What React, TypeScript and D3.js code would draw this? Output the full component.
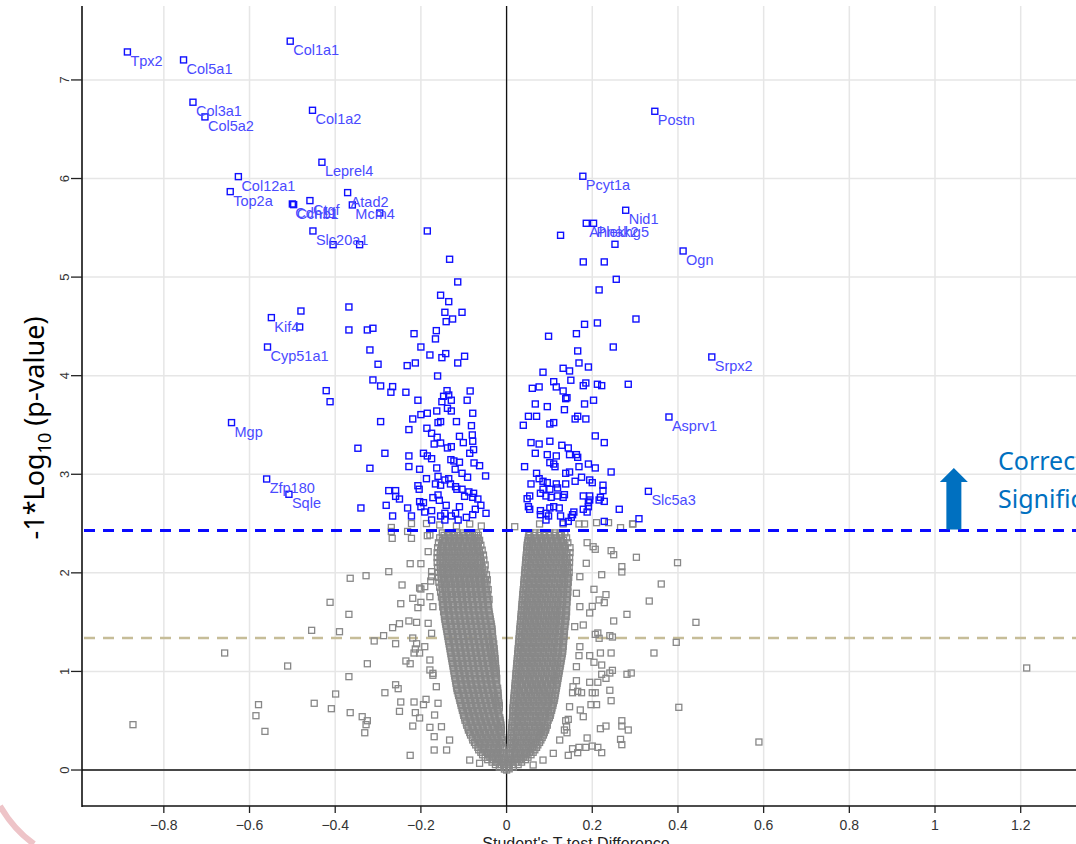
import React, { useEffect, useRef } from "react";
import * as d3 from "d3";

// significant proteins that carry a name: [gene, difference, -log10 p]
const labelled: [string, number, number][] = [
  ["Tpx2", -0.885, 7.284],
  ["Col5a1", -0.754, 7.203],
  ["Col1a1", -0.505, 7.393],
  ["Col3a1", -0.732, 6.774],
  ["Col5a2", -0.704, 6.625],
  ["Col1a2", -0.453, 6.692],
  ["Leprel4", -0.431, 6.165],
  ["Col12a1", -0.626, 6.019],
  ["Top2a", -0.645, 5.867],
  ["Cdh11", -0.5, 5.742],
  ["Ccnb1", -0.497, 5.735],
  ["Ctgf", -0.459, 5.776],
  ["Atad2", -0.371, 5.857],
  ["Mcm4", -0.36, 5.732],
  ["Slc20a1", -0.452, 5.468],
  ["Kif4", -0.549, 4.589],
  ["Cyp51a1", -0.558, 4.291],
  ["Mgp", -0.642, 3.524],
  ["Zfp180", -0.56, 2.952],
  ["Sqle", -0.508, 2.797],
  ["Postn", 0.346, 6.682],
  ["Pcyt1a", 0.178, 6.023],
  ["Nid1", 0.278, 5.678],
  ["Ahnak2", 0.186, 5.546],
  ["Plekhg5", 0.203, 5.546],
  ["Ogn", 0.412, 5.265],
  ["Srpx2", 0.479, 4.19],
  ["Asprv1", 0.379, 3.581],
  ["Slc5a3", 0.331, 2.827],
];

// other significant proteins (above the corrected threshold)
const sigLeft: [number, number][] = [
  [-0.296, 5.65], [-0.405, 5.329], [-0.343, 5.329], [-0.185, 5.468],
  [-0.48, 4.656], [-0.483, 4.494], [-0.368, 4.697], [-0.368, 4.464], [-0.325, 4.464], [-0.312, 4.481],
  [-0.319, 4.261], [-0.3, 4.116], [-0.312, 3.957], [-0.294, 3.896], [-0.266, 3.889], [-0.27, 3.832],
  [-0.421, 3.848], [-0.412, 3.736], [-0.294, 3.534], [-0.347, 3.264], [-0.284, 3.213], [-0.319, 3.061],
  [-0.133, 5.181], [-0.114, 4.951], [-0.154, 4.816], [-0.135, 4.751], [-0.144, 4.643], [-0.104, 4.643],
  [-0.126, 4.575], [-0.141, 4.548], [-0.216, 4.426], [-0.164, 4.457], [-0.166, 4.373], [-0.2, 4.291],
  [-0.179, 4.21], [-0.142, 4.224], [-0.151, 4.183], [-0.098, 4.197], [-0.114, 4.129], [-0.232, 4.102],
  [-0.213, 4.129], [-0.161, 3.997], [-0.235, 3.832], [-0.139, 3.848], [-0.147, 3.791], [-0.135, 3.804],
  [-0.085, 3.845], [-0.207, 3.751], [-0.151, 3.736], [-0.129, 3.751], [-0.092, 3.751], [-0.2, 3.605],
  [-0.185, 3.619], [-0.163, 3.642], [-0.138, 3.669], [-0.129, 3.642], [-0.079, 3.619], [-0.219, 3.561],
  [-0.16, 3.524], [-0.154, 3.534], [-0.117, 3.534], [-0.228, 3.453], [-0.186, 3.467], [-0.175, 3.416],
  [-0.082, 3.493], [-0.162, 3.375], [-0.11, 3.385], [-0.08, 3.399], [-0.169, 3.307], [-0.154, 3.317],
  [-0.138, 3.267], [-0.129, 3.28], [-0.101, 3.321], [-0.079, 3.335], [-0.077, 3.25], [-0.194, 3.213],
  [-0.185, 3.186], [-0.175, 3.158], [-0.228, 3.186], [-0.13, 3.148], [-0.123, 3.135], [-0.11, 3.122],
  [-0.086, 3.213], [-0.076, 3.115], [-0.063, 3.087], [-0.228, 3.078], [-0.203, 3.051], [-0.163, 3.064],
  [-0.12, 3.051], [-0.104, 3.01], [-0.091, 2.97], [-0.049, 2.983], [-0.187, 2.955], [-0.16, 2.979],
  [-0.144, 2.942], [-0.135, 2.955], [-0.166, 2.902], [-0.154, 2.889], [-0.131, 2.902], [-0.119, 2.874],
  [-0.116, 2.848], [-0.104, 2.848], [-0.088, 2.821], [-0.077, 2.807], [-0.207, 2.884], [-0.204, 2.848],
  [-0.275, 2.834], [-0.259, 2.834], [-0.25, 2.749], [-0.259, 2.776], [-0.281, 2.685], [-0.231, 2.658],
  [-0.203, 2.722], [-0.194, 2.712], [-0.172, 2.763], [-0.16, 2.79], [-0.157, 2.736], [-0.141, 2.685],
  [-0.11, 2.671], [-0.098, 2.776], [-0.079, 2.766], [-0.067, 2.749], [-0.06, 2.685], [-0.073, 2.645],
  [-0.048, 2.604], [-0.34, 2.658], [-0.266, 2.577], [-0.222, 2.577], [-0.2, 2.671], [-0.191, 2.617],
  [-0.175, 2.631], [-0.154, 2.577], [-0.144, 2.604], [-0.129, 2.577], [-0.119, 2.604], [-0.094, 2.563],
  [-0.175, 2.536], [-0.144, 2.536], [-0.113, 2.536], [-0.079, 2.59],
];

const sigRight: [number, number][] = [
  [0.126, 5.424], [0.253, 5.333], [0.179, 5.154], [0.228, 5.154], [0.256, 4.978], [0.216, 4.87],
  [0.302, 4.575], [0.182, 4.521], [0.212, 4.535], [0.098, 4.4], [0.163, 4.426], [0.249, 4.291],
  [0.166, 4.251], [0.169, 4.129], [0.191, 4.088], [0.132, 4.075], [0.147, 4.048], [0.085, 4.035],
  [0.15, 3.954], [0.11, 3.939], [0.116, 3.886], [0.179, 3.899], [0.185, 3.926], [0.212, 3.913],
  [0.222, 3.899], [0.284, 3.913], [0.076, 3.886], [0.06, 3.872], [0.132, 3.845], [0.138, 3.767],
  [0.141, 3.777], [0.067, 3.713], [0.095, 3.686], [0.182, 3.713], [0.203, 3.751], [0.135, 3.655],
  [0.051, 3.588], [0.07, 3.588], [0.166, 3.588], [0.16, 3.561], [0.185, 3.561], [0.039, 3.497],
  [0.101, 3.51], [0.11, 3.524], [0.207, 3.389], [0.228, 3.321], [0.057, 3.321], [0.076, 3.307],
  [0.101, 3.335], [0.129, 3.294], [0.144, 3.267], [0.067, 3.213], [0.095, 3.199], [0.116, 3.186],
  [0.147, 3.199], [0.163, 3.199], [0.166, 3.172], [0.101, 3.118], [0.11, 3.104], [0.113, 3.077],
  [0.042, 3.077], [0.169, 3.077], [0.191, 3.104], [0.207, 3.064], [0.244, 3.023], [0.07, 3.01],
  [0.138, 3.01], [0.147, 3.023], [0.175, 2.97], [0.194, 2.942], [0.2, 2.915], [0.16, 2.929],
  [0.076, 2.955], [0.085, 2.929], [0.095, 2.915], [0.057, 2.902], [0.116, 2.902], [0.138, 2.902],
  [0.225, 2.889], [0.225, 2.834], [0.085, 2.848], [0.101, 2.848], [0.119, 2.861], [0.079, 2.807],
  [0.054, 2.78], [0.048, 2.752], [0.092, 2.78], [0.104, 2.766], [0.119, 2.78], [0.132, 2.766],
  [0.135, 2.793], [0.179, 2.78], [0.194, 2.78], [0.194, 2.739], [0.219, 2.766], [0.228, 2.725],
  [0.216, 2.739], [0.051, 2.671], [0.054, 2.645], [0.079, 2.631], [0.101, 2.658], [0.11, 2.671],
  [0.123, 2.658], [0.191, 2.712], [0.191, 2.671], [0.179, 2.645], [0.188, 2.617], [0.157, 2.617],
  [0.154, 2.59], [0.151, 2.563], [0.144, 2.522], [0.132, 2.509], [0.079, 2.59], [0.092, 2.604],
  [0.098, 2.577], [0.092, 2.536], [0.126, 2.577], [0.263, 2.645], [0.309, 2.549], [0.228, 2.522],
];

// non-significant proteins away from the dense centre
const grayScatter: [number, number][] = [
  [-0.872, 0.46], [-0.658, 1.187], [-0.511, 1.055], [-0.579, 0.663], [-0.585, 0.551], [-0.564, 0.392],
  [-0.449, 0.677], [-0.409, 0.622], [-0.399, 0.771], [-0.365, 0.582], [-0.368, 0.947], [-0.325, 1.078],
  [-0.455, 1.417], [-0.39, 1.403], [-0.412, 1.701], [-0.368, 1.579], [-0.365, 1.945], [-0.328, 1.971],
  [-0.275, 2.012], [-0.244, 1.877], [-0.247, 1.687], [-0.309, 1.309], [-0.287, 1.363], [-0.266, 1.444],
  [-0.25, 1.484], [-0.259, 1.281], [-0.284, 0.784], [-0.259, 0.865], [-0.253, 0.825], [-0.247, 0.69],
  [-0.25, 0.595], [-0.337, 0.541], [-0.325, 0.5], [-0.328, 0.46], [-0.331, 0.378], [-0.225, 0.149],
  [-0.219, 0.446], [-0.216, 0.69], [-0.203, 0.528], [-0.213, 0.582], [-0.194, 0.663], [-0.188, 0.717],
  [-0.179, 1.015], [-0.172, 0.961], [-0.179, 0.433], [-0.169, 0.338], [-0.169, 0.203], [-0.235, 1.106],
  [-0.225, 1.078], [-0.219, 1.339], [-0.21, 1.281], [-0.213, 1.228], [-0.203, 1.187], [-0.216, 1.187],
  [-0.228, 1.512], [-0.21, 1.498], [-0.219, 1.742], [-0.207, 1.647], [-0.2, 1.701], [-0.2, 1.836],
  [-0.225, 2.093], [-0.2, 2.093], [-0.267, 2.35], [-0.269, 2.42], [-0.231, 2.42], [-0.222, 2.35],
  [-0.185, 2.377], [-0.183, 2.215], [-0.175, 2.012], [-0.177, 1.917],
  [0.399, 2.103], [0.361, 1.887], [0.333, 1.714], [0.442, 1.498], [0.396, 1.295], [0.402, 0.636],
  [0.589, 0.284], [0.344, 1.187], [0.303, 2.158], [0.269, 2.063], [0.269, 2.009], [0.244, 2.225],
  [0.25, 2.184], [0.207, 2.239], [0.188, 2.306], [0.222, 1.981], [0.204, 1.833], [0.232, 1.779],
  [0.216, 1.725], [0.228, 1.698], [0.281, 1.579], [0.25, 1.512], [0.2, 1.66], [0.194, 1.593],
  [0.179, 1.471], [0.213, 1.39], [0.241, 1.363], [0.247, 1.349], [0.216, 1.336], [0.219, 1.187],
  [0.244, 1.187], [0.194, 1.16], [0.204, 1.093], [0.222, 1.065], [0.247, 1.011], [0.241, 0.984],
  [0.222, 0.971], [0.232, 0.93], [0.281, 0.971], [0.291, 0.984], [0.194, 0.89], [0.213, 0.89],
  [0.241, 0.809], [0.2, 0.784], [0.207, 0.784], [0.244, 0.703], [0.197, 0.663], [0.21, 0.663],
  [0.179, 0.541], [0.269, 0.5], [0.269, 0.446], [0.284, 0.406], [0.219, 0.419], [0.232, 0.446],
  [0.188, 0.325], [0.266, 0.311], [0.269, 0.257], [0.2, 0.243], [0.213, 0.23], [0.222, 0.176],
  [0.185, 0.23], [0.166, 0.176], [0.144, 0.149], [0.154, 0.216], [0.169, 0.23], [0.141, 0.378],
  [0.135, 0.406], [0.144, 0.514], [0.138, 0.5], [0.172, 0.609], [0.166, 0.798], [0.175, 0.784],
  [0.163, 0.906], [0.154, 0.784], [0.169, 1.16], [0.207, 1.376], [1.214, 1.035],
  [0.266, 2.458], [0.294, 2.496], [0.21, 2.509], [0.238, 2.509], [0.169, 2.496], [0.182, 2.496],
  [-0.269, 2.46], [-0.222, 2.5], [-0.187, 2.5], [-0.156, 2.486], [-0.117, 2.475], [-0.086, 2.496],
  [-0.059, 2.475], [0.019, 2.468], [0.077, 2.496], [0.132, 2.496], [0.295, 2.496],
  [0, 0], [-0.005, 0.01], [0.006, 0.012],
  // ragged edges of the centre
  [-0.179, 2.384], [-0.191, 1.86], [-0.175, 1.961], [-0.203, 1.846], [-0.179, 1.758], [-0.172, 1.657],
  [-0.183, 1.488], [-0.175, 1.387], [-0.191, 1.251], [-0.179, 1.116], [-0.172, 0.981], [-0.164, 0.845],
  [-0.16, 0.677], [-0.168, 0.558], [-0.152, 0.439], [-0.133, 0.304], [-0.14, 0.203], [-0.086, 0.101],
  [-0.063, 0.068],
  [0.202, 2.265], [0.186, 2.097], [0.171, 1.961], [0.163, 1.793], [0.171, 1.657], [0.159, 1.454],
  [0.171, 1.251], [0.163, 1.048], [0.155, 0.845], [0.147, 0.642], [0.14, 0.439], [0.124, 0.304],
  [0.109, 0.169], [0.085, 0.101], [0.062, 0.051],
];

// dense centre of the volcano: -log10 p, then differences in thousandths
const coreRows: [number, string][] = [
  [0.03, "-17 -6 5 16"],
  [0.055, "-26 -15 -7 6 15 27"],
  [0.08, "-34 -23 -12 -4 4 13 24 35"],
  [0.105, "-44 -33 -21 -11 -3 3 11 22 33 44"],
  [0.13, "-50 -39 -27 -16 -6 7 18 29 40 50"],
  [0.155, "-56 -44 -32 -21 -10 8 13 24 36 47 57"],
  [0.18, "-60 -48 -37 -25 -14 -8 8 19 31 42 54 62"],
  [0.205, "-65 -53 -42 -30 -19 -9 9 20 32 44 56 66"],
  [0.23, "-67 -55 -43 -31 -20 -9 9 14 26 38 50 61 70"],
  [0.255, "-72 -60 -49 -37 -25 -14 10 16 27 39 51 63 73"],
  [0.28, "-75 -63 -51 -39 -27 -16 -10 10 21 33 45 57 68 77"],
  [0.305, "-79 -67 -55 -43 -32 -20 -10 10 22 34 46 57 69 80"],
  [0.33, "-80 -68 -56 -45 -33 -22 -11 10 16 28 40 51 63 74 83"],
  [0.355, "-84 -72 -61 -49 -37 -25 -14 11 17 29 41 52 64 76 86"],
  [0.38, "-86 -74 -62 -50 -38 -27 -15 11 23 34 46 58 69 80 88"],
  [0.405, "-89 -77 -65 -54 -42 -30 -18 -12 12 24 36 47 59 71 82 91"],
  [0.43, "-90 -79 -67 -55 -43 -31 -19 -13 12 18 30 41 53 65 76 87 92"],
  [0.455, "-93 -81 -69 -57 -46 -34 -22 -13 13 19 31 42 54 66 77 89 95"],
  [0.48, "-94 -83 -71 -59 -47 -36 -24 -14 13 25 36 48 60 71 83 95"],
  [0.505, "-97 -85 -73 -62 -50 -38 -26 -15 14 26 37 49 61 73 84 97"],
  [0.53, "-98 -86 -74 -62 -51 -39 -27 -16 14 20 32 43 55 67 78 90 100"],
  [0.555, "-100 -88 -76 -64 -53 -41 -29 -18 15 21 32 44 56 68 79 91 102"],
  [0.58, "-101 -89 -78 -66 -54 -42 -30 -19 15 27 38 50 62 74 85 97 103"],
  [0.605, "-103 -91 -79 -68 -56 -44 -32 -21 15 27 39 50 62 74 86 97 105"],
  [0.63, "-104 -93 -81 -69 -57 -46 -34 -22 -17 15 21 33 45 56 68 80 92 106"],
  [0.655, "-106 -95 -83 -71 -59 -47 -36 -24 -17 16 22 33 45 57 69 81 92 104 108"],
  [0.68, "-107 -95 -83 -72 -60 -48 -36 -25 -18 16 28 40 51 63 75 87 98 109"],
  [0.705, "-109 -97 -85 -73 -62 -50 -38 -26 -19 17 29 40 52 64 76 87 99 111"],
  [0.73, "-110 -98 -86 -75 -63 -51 -39 -28 -19 17 23 35 47 58 70 82 94 105 112"],
  [0.755, "-112 -100 -88 -76 -64 -53 -41 -29 -20 18 24 35 47 59 71 83 94 106 113"],
  [0.78, "-113 -101 -89 -77 -66 -54 -42 -30 -20 18 30 42 53 65 77 89 100 114"],
  [0.805, "-115 -103 -91 -79 -67 -55 -44 -32 -21 19 30 42 54 66 78 89 101 115"],
  [0.83, "-116 -104 -92 -80 -68 -57 -45 -33 -21 19 25 37 49 61 72 84 96 108 116"],
  [0.855, "-117 -105 -93 -82 -70 -58 -46 -34 -23 20 25 37 49 61 73 84 96 108 117"],
  [0.88, "-118 -106 -94 -83 -71 -59 -47 -35 -24 20 32 44 56 67 79 91 103 118"],
  [0.905, "-119 -107 -96 -84 -72 -60 -48 -37 -25 21 32 44 55 67 79 91 103 114 119"],
  [0.93, "-120 -109 -97 -85 -73 -61 -50 -38 -26 -23 21 27 39 51 62 74 86 98 110 120"],
  [0.955, "-121 -109 -97 -86 -74 -62 -50 -38 -27 22 28 40 52 63 75 87 99 111 121"],
  [0.98, "-122 -110 -98 -87 -75 -63 -51 -40 -28 -24 22 34 46 57 69 81 93 105 116 122"],
  [1.005, "-123 -111 -100 -88 -76 -64 -52 -41 -29 -25 23 34 46 58 70 82 93 105 117 123"],
  [1.03, "-124 -113 -101 -89 -77 -66 -54 -42 -30 -25 23 29 41 53 64 76 88 100 112 124"],
  [1.055, "-125 -113 -102 -90 -78 -66 -54 -43 -31 -26 24 30 42 54 65 77 89 101 113 125"],
  [1.08, "-126 -114 -102 -91 -79 -67 -55 -44 -32 -26 24 36 48 59 71 83 95 107 118 126"],
  [1.105, "-127 -116 -104 -92 -80 -68 -57 -45 -33 -27 25 37 48 60 72 84 96 108 119 127"],
  [1.13, "-128 -117 -105 -93 -81 -70 -58 -46 -34 -27 25 31 43 55 66 78 90 102 114 128"],
  [1.155, "-129 -117 -105 -94 -82 -70 -58 -46 -35 -28 26 32 44 56 67 79 91 103 115 129"],
  [1.18, "-130 -118 -106 -95 -83 -71 -59 -48 -36 -28 26 38 50 61 73 85 97 109 120 130"],
  [1.205, "-131 -120 -108 -96 -84 -72 -61 -49 -37 -29 27 39 50 62 74 86 98 110 121 131"],
  [1.23, "-132 -121 -109 -97 -85 -74 -62 -50 -38 -29 27 33 45 57 68 80 92 104 116 131"],
  [1.255, "-133 -121 -109 -98 -86 -74 -62 -50 -39 -31 28 34 46 58 69 81 93 105 117 132"],
  [1.28, "-134 -122 -110 -99 -87 -75 -63 -52 -40 -30 28 40 52 63 75 87 99 111 122 132"],
  [1.305, "-135 -124 -112 -100 -88 -76 -65 -53 -41 -32 29 41 52 64 76 88 100 112 123 133"],
  [1.33, "-136 -125 -113 -101 -89 -78 -66 -54 -42 -32 29 35 47 59 70 82 94 106 118 133"],
  [1.355, "-137 -125 -113 -102 -90 -78 -66 -54 -43 -33 30 36 48 60 71 83 95 107 119 134"],
  [1.38, "-138 -126 -114 -103 -91 -79 -67 -56 -44 -33 30 42 54 65 77 89 101 113 124 134"],
  [1.405, "-139 -128 -116 -104 -92 -81 -69 -57 -45 -34 31 43 54 66 78 90 102 114 125 135"],
  [1.43, "-140 -129 -117 -105 -93 -82 -70 -58 -46 -34 31 37 49 61 72 84 96 108 120 135"],
  [1.455, "-141 -129 -117 -106 -94 -82 -70 -58 -47 -35 32 38 50 62 73 85 97 109 121 136"],
  [1.48, "-142 -130 -118 -107 -95 -83 -71 -60 -48 -36 32 44 56 67 79 91 103 115 126 136"],
  [1.505, "-143 -132 -120 -108 -96 -85 -73 -61 -49 -37 33 45 56 68 80 92 104 116 127 138"],
  [1.53, "-144 -133 -121 -109 -97 -86 -74 -62 -50 -38 33 39 51 63 74 86 98 110 122 137"],
  [1.555, "-145 -133 -121 -110 -98 -86 -74 -63 -51 -39 34 40 52 64 75 87 99 111 123 139"],
  [1.58, "-145 -134 -122 -110 -99 -87 -75 -63 -52 -40 34 46 58 69 81 93 105 117 128 138"],
  [1.605, "-147 -135 -124 -112 -100 -88 -77 -65 -53 -41 35 47 58 70 82 94 106 118 129 140"],
  [1.63, "-146 -137 -125 -113 -101 -90 -78 -66 -54 -42 35 41 53 65 76 88 100 112 124 139"],
  [1.655, "-149 -137 -125 -114 -102 -90 -78 -66 -55 -43 36 42 54 66 77 89 101 113 125 140"],
  [1.68, "-147 -136 -124 -112 -101 -89 -77 -65 -54 -42 36 48 60 71 83 95 107 119 130 140"],
  [1.705, "-150 -139 -127 -115 -103 -92 -80 -68 -56 -44 37 49 60 72 84 96 108 120 131 141"],
  [1.73, "-148 -140 -128 -116 -104 -93 -81 -69 -57 -45 -41 37 43 55 67 78 90 102 114 126 140"],
  [1.755, "-152 -141 -129 -117 -105 -94 -82 -70 -58 -46 38 44 56 68 79 91 103 115 127 142"],
  [1.78, "-149 -138 -126 -114 -103 -91 -79 -67 -56 -44 38 50 62 73 85 97 109 121 132 141"],
  [1.805, "-154 -142 -130 -119 -107 -95 -83 -72 -60 -48 39 51 62 74 86 98 110 122 133 143"],
  [1.83, "-150 -142 -130 -118 -106 -95 -83 -71 -59 -47 -43 39 45 57 69 80 92 104 116 128 141"],
  [1.855, "-156 -144 -132 -120 -109 -97 -85 -73 -62 -50 40 46 58 70 81 93 105 117 129 143"],
  [1.88, "-151 -140 -128 -116 -105 -93 -81 -69 -58 -46 40 52 64 75 87 99 111 123 134 142"],
  [1.905, "-158 -146 -134 -122 -110 -99 -87 -75 -63 -51 41 53 64 76 88 100 112 124 135 144"],
  [1.93, "-152 -144 -132 -120 -108 -97 -85 -73 -61 -49 -45 41 47 59 71 82 94 106 118 130 142"],
  [1.955, "-159 -147 -135 -124 -112 -100 -88 -77 -65 -53 42 48 60 72 83 95 107 119 131 145"],
  [1.98, "-153 -141 -130 -118 -106 -94 -83 -71 -59 -47 42 54 66 77 89 101 113 125 136 142"],
  [2.005, "-160 -149 -137 -125 -113 -102 -90 -78 -66 -55 43 55 66 78 90 102 114 126 137 146"],
  [2.03, "-154 -146 -134 -122 -110 -99 -87 -75 -63 -51 43 49 61 73 84 96 108 120 132 142"],
  [2.055, "-161 -150 -138 -126 -115 -103 -91 -79 -68 -57 44 50 62 74 85 97 109 121 133 146"],
  [2.08, "-155 -143 -131 -120 -108 -96 -84 -73 -61 -50 44 56 68 79 91 103 115 127 138 142"],
  [2.105, "-162 -150 -139 -127 -115 -104 -92 -80 -68 -59 45 57 68 80 92 104 116 128 139 147"],
  [2.13, "-155 -147 -135 -123 -112 -100 -88 -76 -64 -53 45 51 63 75 86 98 110 122 134 141"],
  [2.155, "-162 -151 -139 -128 -116 -104 -92 -81 -69 -61 46 52 64 76 87 99 111 123 135 147"],
  [2.18, "-155 -143 -132 -120 -108 -96 -85 -73 -61 -54 46 58 70 81 93 105 117 129 140"],
  [2.205, "-162 -150 -139 -127 -115 -104 -92 -80 -68 -63 47 59 70 82 94 106 118 130 141 148"],
  [2.23, "-154 -146 -134 -122 -111 -99 -87 -75 -64 -57 47 53 65 77 88 100 112 124 136"],
  [2.255, "-161 -149 -137 -126 -114 -102 -90 -79 -67 48 54 66 78 89 101 113 125 137 148"],
  [2.28, "-152 -140 -128 -117 -105 -93 -81 -70 -60 48 60 72 83 95 107 119 131 136"],
  [2.305, "-159 -147 -135 -124 -112 -100 -88 -77 -66 49 61 72 84 96 108 120 132 143"],
  [2.33, "-150 -142 -130 -118 -107 -95 -83 -71 -63 50 56 68 80 91 103 115 127 133"],
  [2.355, "-156 -144 -132 -121 -109 -97 -85 -74 -68 51 57 69 81 92 104 116 128 140"],
  [2.38, "-146 -134 -122 -111 -99 -87 -75 -66 52 64 76 87 99 111 123 128"],
  [2.405, "-150 -138 -127 -115 -103 -92 -80 -70 54 66 78 89 101 113 125 136"],
];

const xTicks = [-0.8, -0.6, -0.4, -0.2, 0, 0.2, 0.4, 0.6, 0.8, 1, 1.2];
const yTicks = [0, 1, 2, 3, 4, 5, 6, 7];
const correctedCutoff = 2.43;
const pCutoff = 1.34;

const App = () => {
  const svgRef = useRef<SVGSVGElement>(null);

  useEffect(() => {
    const width = 1076;
    const height = 844;
    const left = 82;
    const top = 6;
    const bottom = 806;
    const font = "'Liberation Sans', Arial, sans-serif";
    const titleFont = "'Noto Sans', 'Open Sans', sans-serif";

    const x = d3.scaleLinear().domain([-0.991, 1.33]).range([left, 1076.4]);
    const y = d3.scaleLinear().domain([-0.365, 7.75]).range([bottom, top]);

    const svg = d3.select(svgRef.current).attr("width", width).attr("height", height);
    svg.selectAll("*").remove();

    svg.append("rect").attr("width", width).attr("height", height).attr("fill", "#fff");

    // grid
    const grid = svg.append("g").attr("stroke", "#e6e6e6").attr("stroke-width", 1.5);
    grid.selectAll("line.v").data(xTicks).join("line")
      .attr("x1", (d) => x(d)).attr("x2", (d) => x(d)).attr("y1", top).attr("y2", bottom);
    grid.selectAll("line.h").data(yTicks).join("line")
      .attr("x1", left).attr("x2", width).attr("y1", (d) => y(d)).attr("y2", (d) => y(d));

    // nominal p = 0.05 line
    svg.append("line").attr("x1", left + 2).attr("x2", width)
      .attr("y1", y(pCutoff)).attr("y2", y(pCutoff))
      .attr("stroke", "#c6bd98").attr("stroke-width", 2.5).attr("stroke-dasharray", "11,8");

    // zero lines
    svg.append("line").attr("x1", left).attr("x2", width).attr("y1", y(0)).attr("y2", y(0))
      .attr("stroke", "#111").attr("stroke-width", 1.5);
    svg.append("line").attr("x1", x(0)).attr("x2", x(0)).attr("y1", top).attr("y2", bottom)
      .attr("stroke", "#111").attr("stroke-width", 1.3);

    const corePts: [number, number][] = coreRows.flatMap(([v, s]) =>
      s.split(" ").map((t) => [+t / 1000, v] as [number, number])
    );
    const grayPts = [...corePts, ...grayScatter];
    const s = 6;

    svg.append("g").selectAll("rect").data(grayPts).join("rect")
      .attr("x", (d) => x(d[0]) - s / 2).attr("y", (d) => y(d[1]) - s / 2)
      .attr("width", s).attr("height", s)
      .attr("fill", "none").attr("stroke", "#888").attr("stroke-width", 1.3);

    // corrected significance threshold
    svg.append("line").attr("x1", left + 2).attr("x2", width)
      .attr("y1", y(correctedCutoff)).attr("y2", y(correctedCutoff))
      .attr("stroke", "#0a0aff").attr("stroke-width", 3).attr("stroke-dasharray", "11,8");

    const bluePts: [number, number][] = [
      ...sigLeft,
      ...sigRight,
      ...labelled.map((d) => [d[1], d[2]] as [number, number]),
    ];
    svg.append("g").selectAll("rect").data(bluePts).join("rect")
      .attr("x", (d) => x(d[0]) - s / 2).attr("y", (d) => y(d[1]) - s / 2)
      .attr("width", s).attr("height", s)
      .attr("fill", "none").attr("stroke", "#1010ff").attr("stroke-width", 1.4);

    svg.append("g").selectAll("text").data(labelled).join("text")
      .attr("x", (d) => x(d[1]) + 3).attr("y", (d) => y(d[2]) + 14)
      .attr("font-family", font).attr("font-size", 14.5).attr("fill", "#4a4aff")
      .text((d) => d[0]);

    // axes
    svg.append("line").attr("x1", left).attr("x2", left).attr("y1", top).attr("y2", bottom + 1)
      .attr("stroke", "#111").attr("stroke-width", 1.6);
    svg.append("line").attr("x1", left).attr("x2", width).attr("y1", bottom).attr("y2", bottom)
      .attr("stroke", "#111").attr("stroke-width", 1.6);

    svg.append("g").selectAll("line").data(yTicks).join("line")
      .attr("x1", left - 11).attr("x2", left).attr("y1", (d) => y(d)).attr("y2", (d) => y(d))
      .attr("stroke", "#222").attr("stroke-width", 1.3);
    svg.append("g").selectAll("text").data(yTicks).join("text")
      .attr("transform", (d) => `translate(${left - 13},${y(d)}) rotate(-90)`)
      .attr("text-anchor", "middle").attr("font-family", font).attr("font-size", 13)
      .attr("fill", "#333").text((d) => d);

    svg.append("g").selectAll("line").data(xTicks).join("line")
      .attr("x1", (d) => x(d)).attr("x2", (d) => x(d)).attr("y1", bottom).attr("y2", bottom + 7)
      .attr("stroke", "#222").attr("stroke-width", 1.3);
    svg.append("g").selectAll("text").data(xTicks).join("text")
      .attr("x", (d) => x(d)).attr("y", bottom + 24)
      .attr("text-anchor", "middle").attr("font-family", font).attr("font-size", 14)
      .attr("fill", "#333").text((d) => d3.format("")(d));

    svg.append("text").attr("x", 576).attr("y", 849).attr("text-anchor", "middle")
      .attr("font-family", font).attr("font-size", 16).attr("fill", "#222")
      .text("Student's T-test Difference");

    // y title
    const yt = svg.append("text")
      .attr("transform", `translate(44,428) rotate(-90)`)
      .attr("text-anchor", "middle")
      .attr("font-family", titleFont).attr("font-size", 27).attr("fill", "#000");
    yt.append("tspan").text("-1*Log");
    yt.append("tspan").attr("dy", 7).attr("font-size", 18).text("10");
    yt.append("tspan").attr("dy", -7).text(" (p-value)");

    // annotation
    const ax = x(1.044);
    const tipY = y(3.064);
    const baseY = y(correctedCutoff) - 1;
    svg.append("path")
      .attr("d", `M${ax},${tipY} L${ax + 14},${tipY + 14} L${ax + 7.5},${tipY + 14} L${ax + 7.5},${baseY} L${ax - 7.5},${baseY} L${ax - 7.5},${tipY + 14} L${ax - 14},${tipY + 14} Z`)
      .attr("fill", "#0070c0");
    const note = svg.append("text").attr("font-family", titleFont)
      .attr("font-size", 25).attr("fill", "#0070c0");
    note.append("tspan").attr("x", 998).attr("y", 470).text("Corrected");
    note.append("tspan").attr("x", 998).attr("y", 508).text("Significance");

    // slide decoration in the corner
    svg.append("path").attr("d", "M0,806 Q14,830 34,844").attr("fill", "none")
      .attr("stroke", "#eec4c8").attr("stroke-width", 6);
  }, []);

  return (
    <svg ref={svgRef} style={{ position: "absolute", left: 0, top: 0, display: "block" }}></svg>
  );
};

export default App;
